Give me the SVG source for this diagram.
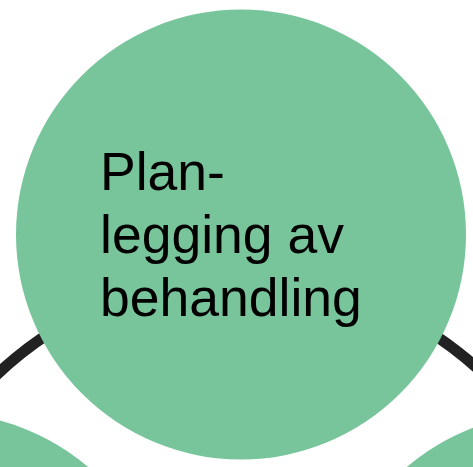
<svg xmlns="http://www.w3.org/2000/svg" width="473" height="467" viewBox="0 0 473 467">
  <style>
    .node { fill: #78c59c; }
    .ring { fill: none; stroke: #222222; stroke-width: 11; }
    .label { font-family: "Liberation Sans", Arial, sans-serif; font-size: 53.5px; fill: #000000; }
  </style>
  <g id="connectors">
    <circle class="ring" cx="240.5" cy="630" r="353"/>
  </g>
  <g id="node-left">
    <circle class="node" cx="-58" cy="638" r="225"/>
  </g>
  <g id="node-right">
    <circle class="node" cx="553" cy="638" r="225"/>
  </g>
  <g id="node-top">
    <circle class="node" cx="241" cy="234.5" r="225"/>
    <text class="label" x="100" y="190">Plan-</text>
    <text class="label" x="100" y="253">legging av</text>
    <text class="label" x="100" y="316">behandling</text>
  </g>
</svg>
